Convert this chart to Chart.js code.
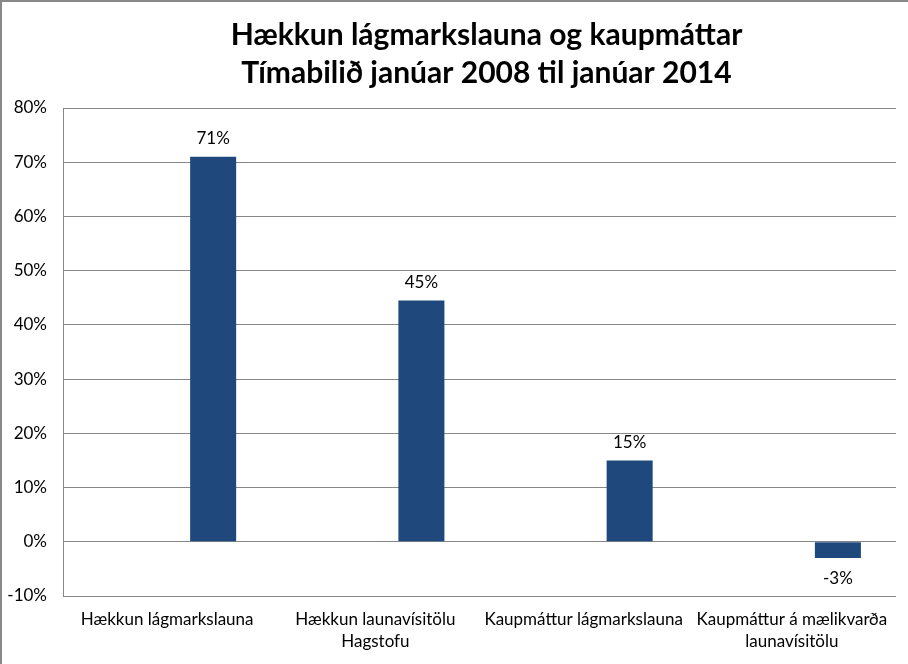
<!DOCTYPE html>
<html>
<head>
<meta charset="utf-8">
<script src="https://cdn.jsdelivr.net/npm/chart.js@4.4.0/dist/chart.umd.min.js"></script>
<style>
html,body{margin:0;padding:0;background:#fff;}
#wrap{position:relative;width:908px;height:664px;border-left:2px solid #888;border-top:2px solid #888;box-sizing:border-box;}
</style>
</head>
<body>
<div id="wrap"><canvas id="c"></canvas></div>
<script>
const titleLines = ["Hækkun lágmarkslauna og kaupmáttar", "Tímabilið janúar 2008 til janúar 2014"];
const categories = [["Hækkun lágmarkslauna"], ["Hækkun launavísitölu", "Hagstofu"], ["Kaupmáttur lágmarkslauna"], ["Kaupmáttur á mælikvarða", "launavísitölu"]];
const seriesValues = [71, 44.5, 15, -3];
const emptySeries = [null, null, null, null];
const yMin = -10, yMax = 80, yStep = 10;

const FONT = "Lato, 'Open Sans', sans-serif";

const titlePlugin = {
  id: 'customTitle',
  afterDraw(chart) {
    const ctx = chart.ctx;
    const ca = chart.chartArea;
    const cx = (ca.left + ca.right) / 2 + 7;
    ctx.save();
    ctx.font = "bold 30px " + FONT;
    ctx.fillStyle = "#000";
    ctx.textAlign = "center";
    ctx.textBaseline = "middle";
    ctx.fillText(titleLines[0], cx, 33);
    ctx.fillText(titleLines[1], cx, 71);
    ctx.restore();
  }
};

const labelPlugin = {
  id: 'barLabels',
  afterDatasetsDraw(chart) {
    const ctx = chart.ctx;
    const meta = chart.getDatasetMeta(2);
    ctx.save();
    ctx.font = "17px " + FONT;
    ctx.fillStyle = "#000";
    ctx.textAlign = "center";
    ctx.textBaseline = "middle";
    meta.data.forEach((bar, i) => {
      const v = seriesValues[i];
      const y = v >= 0 ? bar.y - 18 : bar.y + 20;
      ctx.fillText(Math.round(v) + "%", bar.x, y);
    });
    ctx.restore();
  }
};

new Chart(document.getElementById('c'), {
  type: 'bar',
  data: {
    labels: categories,
    datasets: [
      { data: emptySeries, backgroundColor: '#1F497D' },
      { data: emptySeries, backgroundColor: '#1F497D' },
      { data: seriesValues, backgroundColor: '#1F497D' }
    ]
  },
  options: {
    responsive: true,
    maintainAspectRatio: false,
    animation: false,
    devicePixelRatio: 1,
    categoryPercentage: 0.663,
    barPercentage: 1,
    layout: { padding: { left: 0, right: 12, top: 106, bottom: 0 } },
    plugins: {
      legend: { display: false },
      tooltip: { enabled: false },
      title: { display: false }
    },
    scales: {
      x: {
        grid: { display: false, drawTicks: false },
        border: { display: false },
        ticks: { color: '#000', font: { family: FONT, size: 17, lineHeight: 1.3 }, padding: 12, maxRotation: 0, autoSkip: false },
        afterFit(s) { s.height = 68; }
      },
      y: {
        min: yMin, max: yMax,
        grid: { color: '#878787', lineWidth: 1, drawTicks: false },
        border: { display: true, color: '#878787' },
        ticks: { stepSize: yStep, color: '#000', font: { family: FONT, size: 17 }, padding: 16,
          callback: v => v + '%' },
        afterFit(s) { s.width = 61; }
      }
    }
  },
  plugins: [labelPlugin, titlePlugin]
});
</script>
</body>
</html>
